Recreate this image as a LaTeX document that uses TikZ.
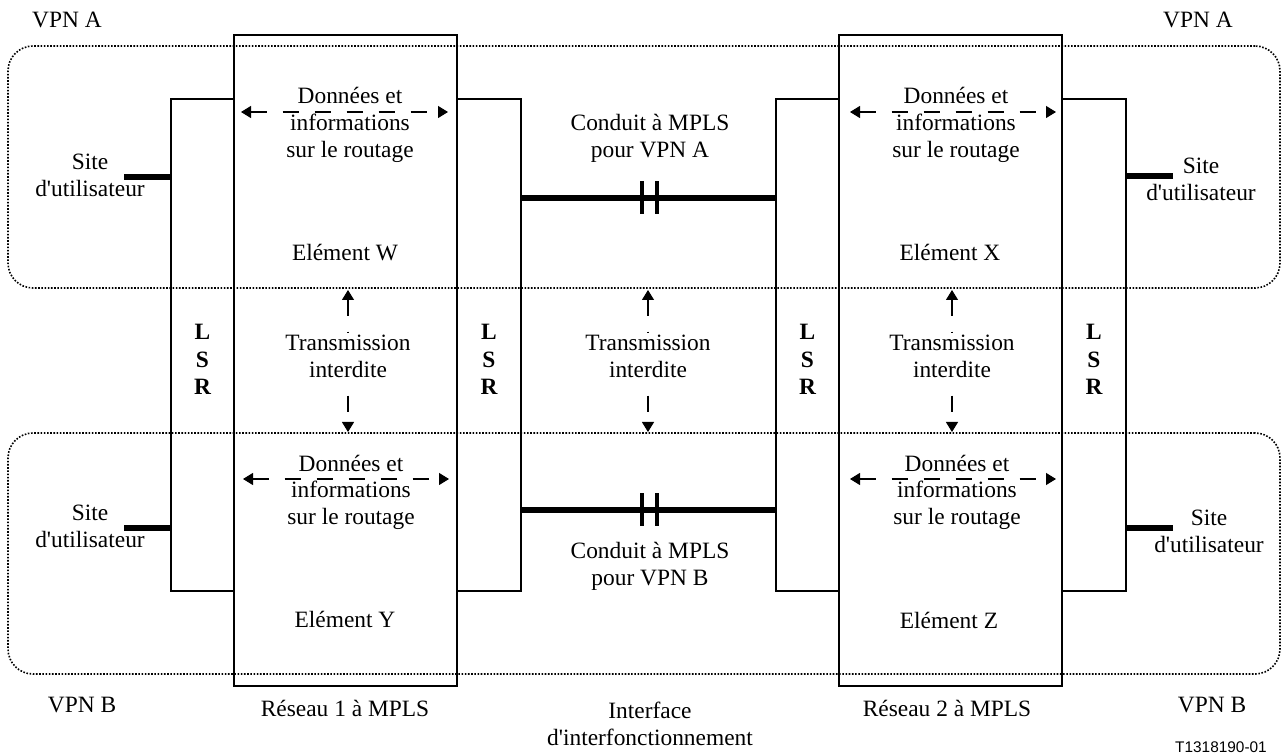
\documentclass[tikz,border=0pt]{standalone}
\usepackage{fontspec}
\setmainfont{Liberation Serif}
\newfontfamily\tagfont{Liberation Sans}
\usetikzlibrary{arrows.meta}
\newcommand{\apos}{\textquotesingle}

\begin{document}
\begin{tikzpicture}[x=0.5pt,y=-0.5pt,
  every node/.style={font=\fontsize{11.7}{13.5}\selectfont, inner sep=0pt, outer sep=0pt},
  box/.style={draw, line width=0.6pt},
  vpnzone/.style={draw, line width=0.8pt, dash pattern=on 0.8pt off 0.8pt, rounded corners=12.5pt},
  txt/.style={align=center, anchor=base},
  lsrtxt/.style={align=center, anchor=base, font=\fontsize{11.7}{13.75}\selectfont\bfseries},
  heavy/.style={line width=3pt},
  brk/.style={line width=2pt},
  flow/.style={line width=0.6pt, dash pattern=on 8pt off 8pt,
    {Triangle[length=5pt,width=6pt]}-{Triangle[length=5pt,width=6pt]}},
]
\useasboundingbox (0,0) rectangle (1282,754);

% VPN zones (dotted, rounded)
\node[vpnzone, minimum width=636pt, minimum height=121pt] (vpnA) at (644,167) {};
\node[vpnzone, minimum width=636pt, minimum height=120.5pt] (vpnB) at (644,553.5) {};

% MPLS networks
\node[box, minimum width=111.5pt, minimum height=325.5pt] (net1) at (345.5,360.5) {};
\node[box, minimum width=111.5pt, minimum height=325.5pt] (net2) at (950.5,360.5) {};

% LSR boxes
\node[box, minimum width=31.5pt, minimum height=246pt] (lsr1) at (202.5,345) {};
\node[box, minimum width=32pt,   minimum height=246pt] (lsr2) at (489,345) {};
\node[box, minimum width=31.5pt, minimum height=246pt] (lsr3) at (807.5,345) {};
\node[box, minimum width=32pt,   minimum height=246pt] (lsr4) at (1094,345) {};

% multi-line labels are placed by the baseline of their last line
\node[lsrtxt] (lsr1t) at (202.5,395) {L\\S\\R};
\node[lsrtxt] (lsr2t) at (489,395) {L\\S\\R};
\node[lsrtxt] (lsr3t) at (807.5,395) {L\\S\\R};
\node[lsrtxt] (lsr4t) at (1094,395) {L\\S\\R};

% user sites
\coordinate (siteA1) at (124,177);
\coordinate (siteB1) at (124,528);
\coordinate (siteA2) at (1173,176);
\coordinate (siteB2) at (1173,528);
\draw[heavy] (siteA1) -- (siteA1 -| lsr1.west);
\draw[heavy] (siteB1) -- (siteB1 -| lsr1.west);
\draw[heavy] (siteA2) -- (siteA2 -| lsr4.east);
\draw[heavy] (siteB2) -- (siteB2 -| lsr4.east);
\node[txt] (siteA1t) at (90,197) {Site\\d\apos utilisateur};
\node[txt] (siteB1t) at (90,548) {Site\\d\apos utilisateur};
\node[txt] (siteA2t) at (1201,201) {Site\\d\apos utilisateur};
\node[txt] (siteB2t) at (1209,553) {Site\\d\apos utilisateur};

% MPLS conduits between the networks
\coordinate (condA) at (649.5,198);
\coordinate (condB) at (649.5,510);
\draw[heavy] (condA -| lsr2.east) -- (condA -| lsr3.west);
\draw[heavy] (condB -| lsr2.east) -- (condB -| lsr3.west);
\foreach \c in {condA,condB}{
  \draw[brk] ([xshift=-3.75pt,yshift=8.25pt]\c) -- ([xshift=-3.75pt,yshift=-8pt]\c);
  \draw[brk] ([xshift=3.75pt,yshift=8.25pt]\c) -- ([xshift=3.75pt,yshift=-8pt]\c);
}
\node[txt] (condAt) at (650,158) {Conduit à MPLS\\pour VPN A};
\node[txt] (condBt) at (650,586) {Conduit à MPLS\\pour VPN B};

% data and routing exchange
\coordinate (dWl) at (241,112);  \coordinate (dWr) at (448,112);
\coordinate (dYl) at (243,479);  \coordinate (dYr) at (449,479);
\coordinate (dXl) at (850,112);  \coordinate (dXr) at (1056,112);
\coordinate (dZl) at (850,479);  \coordinate (dZr) at (1056,479);
\draw[flow] (dWl) -- (dWr);
\draw[flow] (dYl) -- (dYr);
\draw[flow] (dXl) -- (dXr);
\draw[flow] (dZl) -- (dZr);
\node[txt] (dWt) at (350,158) {Données et\\informations\\sur le routage};
\node[txt] (dYt) at (351,525) {Données et\\informations\\sur le routage};
\node[txt] (dXt) at (956,158) {Données et\\informations\\sur le routage};
\node[txt] (dZt) at (957,525) {Données et\\informations\\sur le routage};

% forbidden transmission between VPNs
\foreach \x/\n in {348/1,648/2,952/3}{
  \coordinate (up\n) at (\x,290);
  \coordinate (dn\n) at (\x,432);
  \draw[flow] (up\n) -- (dn\n);
  \node[txt, fill=white, inner sep=1.5pt] (tr\n) at (\x,378) {Transmission\\interdite};
}

% element names
\node[txt] (elW) at (345,261) {Elément W};
\node[txt] (elY) at (345,628) {Elément Y};
\node[txt] (elX) at (950,261) {Elément X};
\node[txt] (elZ) at (949,629) {Elément Z};

% outer labels
\node[txt] (vpnAl) at (67,28) {VPN A};
\node[txt] (vpnAr) at (1198,28) {VPN A};
\node[txt] (vpnBl) at (82,712) {VPN B};
\node[txt] (vpnBr) at (1212,712) {VPN B};
\node[txt] (net1t) at (345,717) {Réseau 1 à MPLS};
\node[txt] (net2t) at (947,717) {Réseau 2 à MPLS};
\node[txt] (iwf) at (650,746) {Interface\\d\apos interfonctionnement};
\node[anchor=base, font=\tagfont\fontsize{7.7}{9}\selectfont] (ref) at (1221,753) {T1318190-01};
\end{tikzpicture}
\end{document}
